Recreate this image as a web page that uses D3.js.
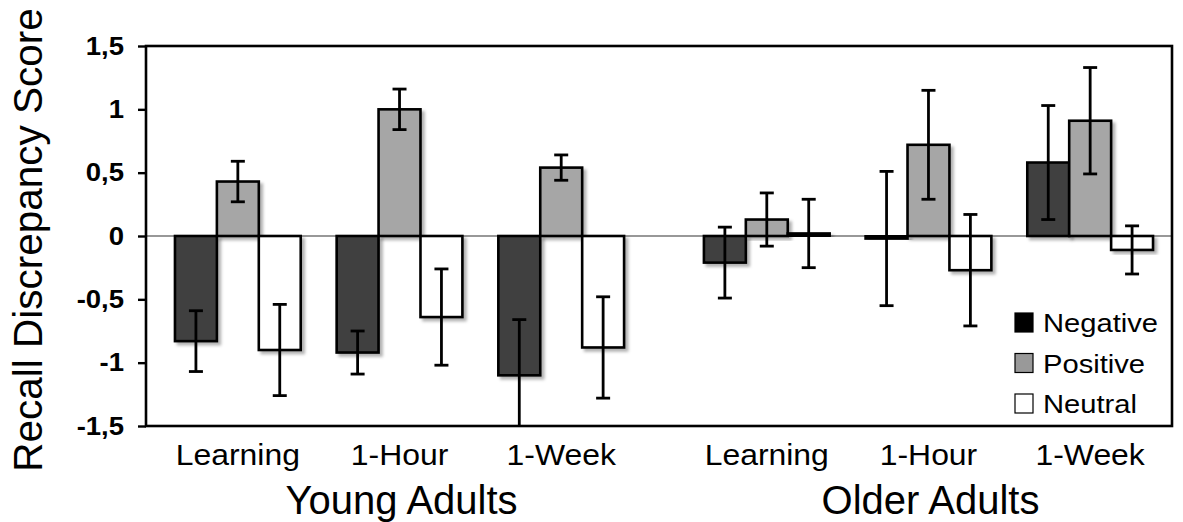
<!DOCTYPE html>
<html>
<head>
<meta charset="utf-8">
<script src="https://cdn.jsdelivr.net/npm/d3@7/dist/d3.min.js"></script>
<style>
  html, body { margin: 0; padding: 0; background: #fff; }
  svg { display: block; font-family: "Liberation Sans", Arial, Helvetica, sans-serif; }
</style>
</head>
<body>
<svg id="chart" width="1183" height="522"></svg>
<script>
// Age groups, retention phases and stimulus valences
const groups = ["Young Adults", "Older Adults"];
const phases = ["Learning", "1-Hour", "1-Week"];
const valences = ["Negative", "Positive", "Neutral"];

// Mean recall discrepancy per group × phase (Young: L, 1H, 1W; Older: L, 1H, 1W)
const negativeMean = [-0.83, -0.92, -1.10, -0.21, -0.02, 0.58];
const positiveMean = [0.43, 1.00, 0.54, 0.13, 0.72, 0.91];
const neutralMean  = [-0.90, -0.64, -0.88, 0.02, -0.27, -0.11];

// Error bar half-widths in the same order
const negativeErr = [0.24, 0.17, 0.44, 0.28, 0.53, 0.45];
const positiveErr = [0.16, 0.16, 0.10, 0.21, 0.43, 0.42];
const neutralErr  = [0.36, 0.38, 0.40, 0.27, 0.44, 0.19];

const yTicks = [-1.5, -1, -0.5, 0, 0.5, 1, 1.5];
const yLabel = "Recall Discrepancy Score";

const means = { Negative: negativeMean, Positive: positiveMean, Neutral: neutralMean };
const errs  = { Negative: negativeErr,  Positive: positiveErr,  Neutral: neutralErr };
const fills = { Negative: "#404040", Positive: "#a6a6a6", Neutral: "#ffffff" };
const legendFills = { Negative: "#000000", Positive: "#999999", Neutral: "#ffffff" };

const plot = { left: 146, right: 1172, top: 46, bottom: 426 };

const svg = d3.select("#chart");

// soft drop shadow under the bars
const defs = svg.append("defs");
const f = defs.append("filter").attr("id", "shadow")
  .attr("x", "-20%").attr("y", "-20%").attr("width", "150%").attr("height", "150%");
f.append("feDropShadow").attr("dx", 3).attr("dy", 3).attr("stdDeviation", 1.4)
  .attr("flood-color", "#000").attr("flood-opacity", 0.3);
defs.append("clipPath").attr("id", "plotClip").append("rect")
  .attr("x", plot.left).attr("y", plot.top)
  .attr("width", plot.right - plot.left).attr("height", plot.bottom - plot.top);

const y = d3.scaleLinear().domain([-1.5, 1.5]).range([plot.bottom, plot.top]);

const x0 = d3.scaleBand().domain(groups).range([157, 1171]).paddingInner(0.083);
const x1 = d3.scaleBand().domain(phases).range([0, x0.bandwidth()])
  .paddingInner(36 / 162).paddingOuter(18 / 162);
const x2 = d3.scaleBand().domain(valences).range([0, x1.bandwidth()]);

// flat records
const records = [];
groups.forEach((g, gi) => {
  phases.forEach((p, pi) => {
    valences.forEach(v => {
      const i = gi * 3 + pi;
      records.push({ group: g, phase: p, valence: v, mean: means[v][i], err: errs[v][i] });
    });
  });
});
const bx = d => x0(d.group) + x1(d.phase) + x2(d.valence);

// zero reference line
svg.append("line")
  .attr("x1", plot.left).attr("x2", plot.right)
  .attr("y1", y(0)).attr("y2", y(0))
  .attr("stroke", "#333").attr("stroke-width", 1.2);

// bars
svg.append("g").selectAll("rect").data(records).join("rect")
  .attr("x", bx)
  .attr("width", x2.bandwidth())
  .attr("y", d => y(Math.max(0, d.mean)))
  .attr("height", d => Math.abs(y(d.mean) - y(0)))
  .attr("fill", d => fills[d.valence])
  .attr("stroke", "#000")
  .attr("stroke-width", 2.6)
  .attr("filter", "url(#shadow)");

// error bars
const eb = svg.append("g").attr("clip-path", "url(#plotClip)")
  .attr("stroke", "#000").attr("stroke-width", 2.8).attr("fill", "none");
const cap = 7;
records.forEach(d => {
  const cx = bx(d) + x2.bandwidth() / 2;
  const yt = y(d.mean + d.err), yb = y(d.mean - d.err);
  eb.append("line").attr("x1", cx).attr("x2", cx).attr("y1", yt).attr("y2", yb);
  eb.append("line").attr("x1", cx - cap).attr("x2", cx + cap).attr("y1", yt).attr("y2", yt);
  eb.append("line").attr("x1", cx - cap).attr("x2", cx + cap).attr("y1", yb).attr("y2", yb);
});

// plot frame
svg.append("rect")
  .attr("x", plot.left).attr("y", plot.top)
  .attr("width", plot.right - plot.left).attr("height", plot.bottom - plot.top)
  .attr("fill", "none").attr("stroke", "#000").attr("stroke-width", 2.6);

// y axis
const yAxis = d3.axisLeft(y).tickValues(yTicks).tickSize(8).tickSizeOuter(0)
  .tickFormat(d => String(d).replace(".", ","));
const ga = svg.append("g").attr("transform", `translate(${plot.left},0)`).call(yAxis);
ga.select(".domain").remove();
ga.selectAll(".tick line").attr("stroke", "#000").attr("stroke-width", 2.4);
ga.selectAll(".tick text")
  .attr("x", -22 / 1.1)
  .attr("transform", "scale(1.1,1)")
  .attr("fill", "#000")
  .style("font-size", "25px")
  .style("font-weight", "bold")
  .style("font-family", "'Liberation Sans', Arial, sans-serif");

// y axis title
svg.append("text")
  .attr("transform", `translate(42,${(plot.top + plot.bottom) / 2 + 4}) rotate(-90)`)
  .attr("text-anchor", "middle")
  .style("font-size", "40.5px")
  .attr("fill", "#000")
  .text(yLabel);

// phase labels
groups.forEach(g => {
  phases.forEach(p => {
    const cx = x0(g) + x1(p) + x1.bandwidth() / 2;
    svg.append("text")
      .attr("transform", `translate(${cx},465) scale(1.1,1)`)
      .attr("text-anchor", "middle")
      .style("font-size", "29px")
      .attr("fill", "#000")
      .text(p);
  });
  // group label
  svg.append("text")
    .attr("x", x0(g) + x0.bandwidth() / 2 + 2)
    .attr("y", 514)
    .attr("text-anchor", "middle")
    .style("font-size", "40px")
    .attr("fill", "#000")
    .text(g);
});

// legend
const legendY = d3.scalePoint().domain(valences).range([332, 413]);
const lg = svg.append("g");
valences.forEach(v => {
  const base = legendY(v);
  lg.append("rect")
    .attr("x", 1015).attr("y", base - 19)
    .attr("width", 18).attr("height", 19)
    .attr("fill", legendFills[v])
    .attr("stroke", "#000").attr("stroke-width", 1.2);
  lg.append("text")
    .attr("transform", `translate(1043,${base}) scale(1.1,1)`)
    .style("font-size", "26.5px")
    .attr("fill", "#000")
    .text(v);
});
</script>
</body>
</html>
